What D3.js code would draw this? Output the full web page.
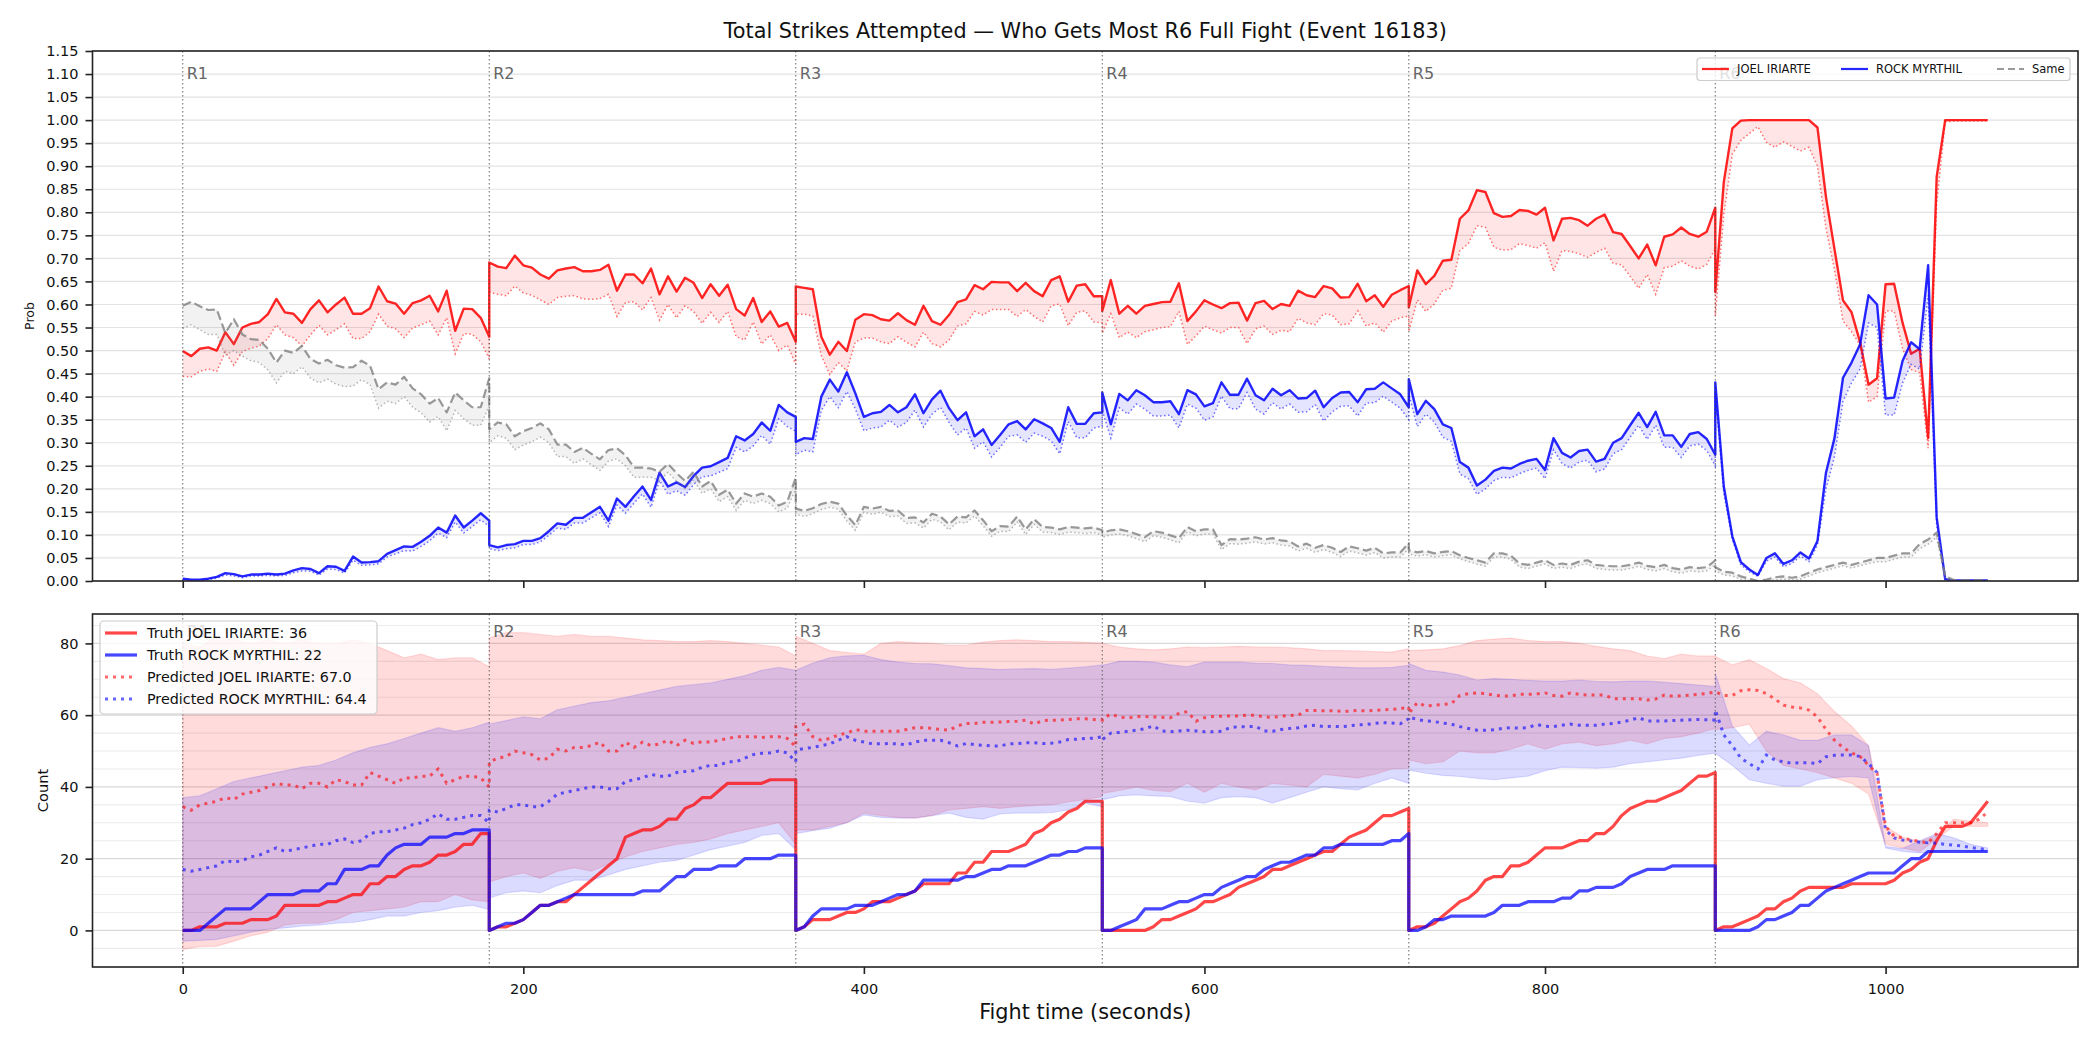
<!DOCTYPE html>
<html>
<head>
<meta charset="utf-8">
<script src="https://cdn.jsdelivr.net/npm/d3@7/dist/d3.min.js"></script>
<style>
body { margin: 0; background: #fff; }
text { font-family: "DejaVu Sans", sans-serif; }
</style>
</head>
<body>
<svg id="chart" width="2100" height="1050"></svg>
<script>
// rounds start every 180 s, samples every 5 s (bands every 10 s)
var roundStarts = [0, 180, 360, 540, 720, 900]
var roundNames = ['R1', 'R2', 'R3', 'R4', 'R5', 'R6']
var probTicks = [0, 0.05, 0.1, 0.15, 0.2, 0.25, 0.3, 0.35, 0.4, 0.45, 0.5, 0.55, 0.6, 0.65, 0.7, 0.75, 0.8, 0.85, 0.9, 0.95, 1.0, 1.05, 1.1, 1.15]
var countTicks = [0, 20, 40, 60, 80]
var countGrid = [-5, 0, 5, 10, 15, 20, 25, 30, 35, 40, 45, 50, 55, 60, 65, 70, 75, 80, 85]
var timeTicks = [0, 200, 400, 600, 800, 1000]

// top panel: probability of who lands most in R6
var probJoel = [
  [0.499,0.488,0.504,0.507,0.50,0.54,0.514,0.55,0.558,0.562,0.579,0.612,0.583,0.58,0.56,0.59,0.609,0.583,0.60,0.615,0.58,0.58,0.592,0.639,0.607,0.602,0.58,0.603,0.609,0.619,0.585,0.63,0.543,0.591,0.59,0.571,0.53],
  [0.691,0.682,0.679,0.706,0.685,0.68,0.665,0.656,0.674,0.678,0.681,0.672,0.672,0.675,0.686,0.63,0.665,0.665,0.646,0.678,0.622,0.661,0.628,0.658,0.647,0.614,0.644,0.619,0.643,0.59,0.576,0.614,0.562,0.585,0.552,0.56,0.519],
  [0.639,0.636,0.633,0.53,0.491,0.519,0.499,0.567,0.579,0.577,0.568,0.565,0.581,0.566,0.556,0.597,0.564,0.556,0.577,0.605,0.611,0.642,0.633,0.649,0.648,0.648,0.629,0.647,0.629,0.618,0.653,0.661,0.606,0.641,0.644,0.618,0.618],
  [0.586,0.653,0.58,0.597,0.58,0.597,0.601,0.605,0.606,0.646,0.564,0.585,0.609,0.60,0.592,0.603,0.604,0.565,0.603,0.608,0.59,0.601,0.597,0.63,0.62,0.616,0.64,0.635,0.615,0.616,0.645,0.607,0.62,0.595,0.621,0.631,0.64],
  [0.594,0.674,0.644,0.662,0.695,0.697,0.786,0.804,0.848,0.844,0.798,0.79,0.792,0.805,0.803,0.795,0.81,0.739,0.786,0.788,0.783,0.771,0.786,0.795,0.757,0.753,0.727,0.70,0.73,0.685,0.747,0.752,0.767,0.753,0.747,0.758,0.81],
  [0.627,0.866,0.982,0.999,1,1,1,1,1,1,1,1,0.984,0.833,0.72,0.609,0.583,0.519,0.426,0.44,0.644,0.645,0.56,0.493,0.504,0.31,0.877,1,1,1,1,1,1]
]
var probJoelLow = [
  [0.444,0.443,0.455,0.46,0.455,0.497,0.468,0.498,0.505,0.51,0.526,0.556,0.534,0.528,0.51,0.534,0.555,0.534,0.545,0.558,0.526,0.526,0.541,0.579,0.553,0.547,0.528,0.549,0.556,0.564,0.534,0.571,0.493,0.537,0.535,0.519,0.482],
  [0.627,0.622,0.619,0.64,0.625,0.62,0.61,0.60,0.615,0.618,0.619,0.612,0.611,0.613,0.622,0.574,0.604,0.606,0.588,0.615,0.566,0.60,0.571,0.597,0.585,0.559,0.583,0.561,0.585,0.53,0.523,0.562,0.514,0.534,0.50,0.512,0.47],
  [0.579,0.579,0.575,0.489,0.448,0.474,0.456,0.519,0.527,0.527,0.519,0.515,0.53,0.518,0.508,0.54,0.515,0.508,0.523,0.553,0.558,0.585,0.577,0.589,0.589,0.589,0.574,0.589,0.574,0.562,0.597,0.601,0.554,0.583,0.586,0.562,0.56],
  [0.538,0.58,0.528,0.54,0.528,0.541,0.545,0.55,0.552,0.585,0.513,0.532,0.553,0.545,0.538,0.55,0.55,0.515,0.547,0.553,0.535,0.544,0.541,0.57,0.56,0.556,0.58,0.577,0.556,0.558,0.586,0.553,0.56,0.54,0.564,0.571,0.575],
  [0.541,0.61,0.585,0.601,0.631,0.635,0.717,0.732,0.771,0.767,0.724,0.718,0.719,0.732,0.728,0.722,0.734,0.672,0.717,0.715,0.71,0.702,0.713,0.722,0.689,0.686,0.661,0.635,0.665,0.622,0.68,0.683,0.695,0.683,0.677,0.687,0.721],
  [0.575,0.795,0.926,0.956,0.971,0.986,0.952,0.941,0.953,0.943,0.933,0.941,0.90,0.765,0.676,0.564,0.541,0.512,0.388,0.40,0.586,0.586,0.504,0.459,0.452,0.288,0.818,0.996,0.998,0.998,0.998,0.998,0.998]
]
var probRock = [
  [0.005,0.003,0.003,0.005,0.009,0.017,0.015,0.010,0.014,0.014,0.016,0.014,0.016,0.023,0.028,0.026,0.017,0.032,0.031,0.022,0.053,0.040,0.041,0.043,0.059,0.067,0.075,0.074,0.085,0.098,0.116,0.105,0.142,0.116,0.131,0.147,0.131],
  [0.078,0.073,0.078,0.08,0.087,0.087,0.093,0.108,0.125,0.122,0.137,0.137,0.149,0.161,0.131,0.179,0.161,0.184,0.205,0.176,0.235,0.205,0.214,0.204,0.228,0.246,0.249,0.258,0.267,0.314,0.305,0.319,0.344,0.326,0.382,0.366,0.356],
  [0.302,0.31,0.308,0.40,0.437,0.411,0.453,0.407,0.356,0.364,0.367,0.382,0.366,0.377,0.405,0.364,0.394,0.413,0.375,0.349,0.366,0.314,0.329,0.295,0.317,0.34,0.347,0.329,0.351,0.342,0.332,0.302,0.377,0.341,0.341,0.364,0.366],
  [0.409,0.34,0.406,0.392,0.414,0.403,0.388,0.388,0.39,0.362,0.414,0.405,0.379,0.386,0.431,0.404,0.404,0.439,0.403,0.392,0.417,0.403,0.414,0.396,0.397,0.413,0.377,0.397,0.409,0.41,0.388,0.416,0.417,0.431,0.418,0.405,0.377],
  [0.438,0.362,0.391,0.373,0.34,0.332,0.258,0.246,0.207,0.22,0.239,0.246,0.244,0.254,0.261,0.265,0.241,0.31,0.278,0.268,0.282,0.285,0.259,0.265,0.30,0.31,0.338,0.365,0.334,0.367,0.316,0.316,0.291,0.319,0.323,0.308,0.274],
  [0.431,0.205,0.097,0.041,0.025,0.013,0.05,0.06,0.037,0.045,0.062,0.049,0.087,0.235,0.31,0.441,0.474,0.513,0.62,0.60,0.396,0.398,0.478,0.518,0.503,0.685,0.138,0.004,0.001,0.001,0.001,0.001,0.001]
]
var probRockLow = [
  [0.003,0.001,0.001,0.003,0.006,0.013,0.011,0.007,0.011,0.011,0.012,0.011,0.012,0.018,0.022,0.021,0.013,0.026,0.025,0.017,0.045,0.034,0.035,0.037,0.052,0.059,0.066,0.065,0.075,0.087,0.104,0.094,0.128,0.104,0.118,0.133,0.118],
  [0.07,0.066,0.07,0.072,0.079,0.079,0.085,0.099,0.115,0.112,0.126,0.126,0.137,0.148,0.118,0.165,0.147,0.169,0.189,0.16,0.218,0.188,0.196,0.186,0.209,0.226,0.228,0.236,0.244,0.29,0.28,0.293,0.316,0.297,0.352,0.335,0.325],
  [0.274,0.284,0.28,0.37,0.40,0.376,0.411,0.373,0.326,0.332,0.334,0.349,0.334,0.344,0.371,0.334,0.362,0.377,0.344,0.317,0.332,0.288,0.302,0.269,0.29,0.314,0.317,0.301,0.321,0.314,0.304,0.276,0.346,0.311,0.311,0.332,0.336],
  [0.37,0.31,0.376,0.362,0.384,0.373,0.358,0.358,0.36,0.332,0.384,0.375,0.349,0.356,0.401,0.374,0.374,0.409,0.373,0.362,0.387,0.373,0.384,0.366,0.367,0.383,0.347,0.367,0.379,0.38,0.358,0.386,0.387,0.401,0.388,0.375,0.35],
  [0.405,0.335,0.362,0.345,0.312,0.303,0.232,0.222,0.188,0.2,0.218,0.225,0.224,0.233,0.24,0.245,0.222,0.285,0.255,0.245,0.258,0.262,0.237,0.243,0.276,0.285,0.312,0.338,0.307,0.338,0.29,0.29,0.268,0.293,0.297,0.283,0.25],
  [0.41,0.19,0.09,0.035,0.02,0.01,0.043,0.052,0.031,0.038,0.054,0.042,0.078,0.2,0.27,0.39,0.43,0.46,0.56,0.55,0.36,0.36,0.43,0.47,0.46,0.62,0.12,0.003,0,0,0,0,0]
]
var probSame = [
  [0.597,0.606,0.596,0.588,0.589,0.538,0.568,0.535,0.525,0.523,0.504,0.474,0.50,0.495,0.51,0.482,0.472,0.48,0.468,0.463,0.464,0.478,0.467,0.416,0.431,0.426,0.443,0.418,0.405,0.385,0.397,0.366,0.409,0.392,0.377,0.377,0.44],
  [0.329,0.344,0.34,0.314,0.325,0.332,0.342,0.329,0.296,0.296,0.28,0.289,0.276,0.264,0.284,0.288,0.273,0.246,0.246,0.244,0.237,0.254,0.234,0.217,0.237,0.205,0.217,0.187,0.198,0.168,0.19,0.183,0.19,0.183,0.164,0.172,0.224],
  [0.157,0.152,0.158,0.167,0.172,0.168,0.142,0.121,0.161,0.157,0.161,0.152,0.153,0.137,0.138,0.127,0.146,0.14,0.123,0.14,0.138,0.153,0.132,0.108,0.119,0.118,0.14,0.112,0.134,0.117,0.116,0.112,0.117,0.116,0.114,0.116,0.11],
  [0.105,0.11,0.112,0.108,0.102,0.095,0.108,0.105,0.099,0.093,0.117,0.108,0.112,0.112,0.078,0.091,0.09,0.092,0.095,0.09,0.093,0.088,0.086,0.075,0.081,0.072,0.078,0.072,0.063,0.075,0.071,0.066,0.072,0.06,0.062,0.062,0.082],
  [0.067,0.062,0.065,0.06,0.063,0.065,0.056,0.05,0.045,0.04,0.06,0.06,0.055,0.038,0.035,0.04,0.045,0.035,0.038,0.035,0.042,0.045,0.035,0.033,0.032,0.032,0.035,0.04,0.033,0.03,0.035,0.028,0.025,0.03,0.028,0.03,0.045],
  [0.03,0.02,0.018,0.01,0.005,0.0,0.003,0.008,0.01,0.007,0.01,0.018,0.025,0.03,0.035,0.04,0.035,0.04,0.045,0.05,0.05,0.055,0.06,0.06,0.08,0.09,0.105,0.01,0.002,0.002,0.002,0.002,0.002]
]
var probSameLow = [
  [0.548,0.556,0.545,0.535,0.535,0.49,0.50,0.488,0.478,0.474,0.458,0.43,0.455,0.45,0.465,0.44,0.43,0.438,0.427,0.422,0.423,0.437,0.426,0.375,0.39,0.385,0.40,0.377,0.365,0.345,0.357,0.326,0.37,0.352,0.338,0.338,0.38],
  [0.30,0.315,0.31,0.285,0.295,0.302,0.312,0.30,0.27,0.27,0.255,0.265,0.252,0.24,0.26,0.265,0.25,0.225,0.225,0.225,0.218,0.236,0.216,0.2,0.22,0.19,0.2,0.172,0.183,0.153,0.175,0.168,0.175,0.168,0.15,0.158,0.2],
  [0.145,0.14,0.146,0.155,0.16,0.156,0.13,0.11,0.149,0.145,0.149,0.14,0.141,0.125,0.126,0.115,0.134,0.128,0.111,0.128,0.126,0.141,0.12,0.097,0.108,0.107,0.128,0.101,0.123,0.106,0.105,0.101,0.106,0.105,0.103,0.105,0.1],
  [0.095,0.1,0.102,0.098,0.092,0.085,0.098,0.095,0.089,0.083,0.107,0.098,0.102,0.102,0.068,0.081,0.08,0.082,0.085,0.08,0.083,0.078,0.076,0.065,0.071,0.062,0.068,0.062,0.053,0.065,0.061,0.056,0.062,0.05,0.052,0.052,0.07],
  [0.059,0.054,0.057,0.052,0.055,0.057,0.048,0.042,0.037,0.032,0.052,0.052,0.047,0.03,0.027,0.032,0.037,0.027,0.03,0.027,0.034,0.037,0.027,0.025,0.024,0.024,0.027,0.032,0.025,0.022,0.027,0.02,0.017,0.022,0.02,0.022,0.035],
  [0.022,0.013,0.011,0.004,0,0,0,0.002,0.004,0.002,0.004,0.011,0.018,0.023,0.028,0.033,0.028,0.033,0.038,0.042,0.042,0.047,0.052,0.052,0.07,0.08,0.095,0.005,0,0,0,0,0]
]

// bottom panel: cumulative strikes per round, truth and predicted
var truthJoel = [
  [0,0,1,1,1,2,2,2,3,3,3,4,7,7,7,7,7,8,8,9,10,10,13,13,15,15,17,18,18,19,21,21,22,24,24,27,27],
  [0,1,1,2,3,5,7,7,8,8,10,12,14,16,18,20,26,27,28,28,29,31,31,34,35,37,37,39,41,41,41,41,41,42,42,42,42],
  [0,1,3,3,3,4,5,5,6,8,8,8,9,10,11,13,13,13,13,16,16,19,19,22,22,22,23,24,27,28,30,31,33,34,36,36,36],
  [0,0,0,0,0,0,1,3,3,4,5,6,8,8,9,10,12,13,14,15,17,17,18,19,20,21,22,22,24,26,27,28,30,32,32,33,34],
  [0,1,1,2,4,6,8,9,11,14,15,15,18,18,19,21,23,23,23,24,25,25,27,27,29,32,34,35,36,36,37,38,39,41,43,43,44],
  [0,1,1,2,3,4,6,6,8,9,11,12,12,12,12,12,13,13,13,13,13,14,16,17,19,20,25,29,29,29,30,33,36]
]
var truthRock = [
  [0,0,0,2,4,6,6,6,6,8,10,10,10,10,11,11,11,13,13,17,17,17,18,18,21,23,24,24,24,26,26,26,27,27,28,28,28],
  [0,1,2,2,3,5,7,7,8,9,10,10,10,10,10,10,10,10,11,11,11,13,15,15,17,17,17,18,18,18,20,20,20,20,21,21,21],
  [0,1,4,6,6,6,6,7,7,7,8,9,10,10,11,14,14,14,14,14,15,15,16,17,17,18,18,18,19,20,21,21,22,22,23,23,23],
  [0,0,1,2,3,6,6,6,7,8,8,9,10,10,12,13,14,15,15,17,18,19,19,20,21,21,23,23,24,24,24,24,24,24,25,25,27],
  [0,0,1,3,3,4,4,4,4,4,5,7,7,7,8,8,8,8,9,9,11,11,12,12,12,13,15,16,17,17,17,18,18,18,18,18,18],
  [0,0,0,0,0,1,3,3,4,5,7,7,9,11,12,13,14,15,16,16,16,16,18,20,20,22,22,22,22,22,22,22,22]
]
var predJoel = [
  [34.5,33.5,35,35.5,36,37,36.5,38,38.5,39,40,41,40.5,40.5,39.5,41,41,40,42,41.5,40.5,40.5,44,43,42,41,42.5,42.5,43,43,45,41,42,43,43,42.5,40],
  [47,48,48.5,50,49.5,49,47.5,48,50.5,50,51,51,51.5,52.5,50,50,52.5,51,52.5,51.5,52,53,51.5,53,52.1,52.6,52.5,53,53.5,54,54,54,53.8,54,54,53.5,51.2],
  [56.8,57.5,54,53,53.5,54.5,55,56,55.5,55.5,55.5,55.5,55.5,56,56.5,56.5,56.3,56,55.8,57,57.7,57.7,58,58,58.1,58.2,58.3,58.6,57.5,58.5,58.6,58.6,58.8,59,59,58.8,58.6],
  [59,60.3,59.5,59.2,59.6,59.6,59.5,59.4,59.3,60.5,61,58.3,59.3,59.6,59.7,59.8,59.8,60,60,59.5,59.4,59.7,59.9,60,61.3,61.3,61.2,61.2,61.1,61.1,61.3,61.2,61.3,61.5,61.6,61.8,62.3],
  [60.5,63.5,62.5,62.8,63,63.2,65.5,66,66.2,66,65.6,65.3,65.4,65.8,65.8,65.9,66.2,65.5,65.3,66.2,65.8,65.6,65.6,65.6,64.6,64.6,64.6,64.6,64.2,64.5,65.6,65.3,65.4,65.6,65.8,66,66.5],
  [66.5,65.5,65.5,66.8,67.1,66.9,66,64.5,62.8,62.3,62,61.4,59.5,56,53,51,49.5,48.5,46,43.8,29,26.3,25.8,25.2,24.8,24.4,27,30,30,30,30,31,33]
]
var predRock = [
  [17,16.5,17,17.5,18,19.5,19,19.5,20.5,21,22,23,22,22.5,23,23.5,24,24,25,25.5,24.5,25,27,27.5,27.5,28,28.5,29.5,30,31,32.5,31,31,31.5,32,32,30],
  [33.5,33,34,35,35,34.5,34.5,36,38,38.5,39,39.5,40,40,39.5,39.5,41.5,42,42.5,43.5,43,43,44,44.3,44.5,45.5,46,46,47,47,48,49,49.4,49.5,50,49.5,47],
  [50.3,50.7,51,51.5,52,53,54,53,52.5,52,52,52.1,52,51.7,52.5,53,53,53,52.3,51.4,52.1,51.8,51.6,51.4,51.4,52,52.1,52.3,52.3,52.1,52.2,52.5,53.2,53.3,53.5,53.6,54],
  [53.2,55,55.2,55.5,55.8,56.2,57,55.6,55.4,55.6,55.8,55.6,55.4,55.4,55.5,56.5,56.8,56.8,56.9,55.6,55.5,56,56.3,56.5,57,57.2,56.8,56.9,56.8,57,57.3,57.4,57.7,57.9,57.8,57.6,59],
  [59.5,58.8,58.4,58.2,57.8,57.5,56.8,56.3,55.8,55.8,55.9,56.3,56.5,56.4,56.5,57.4,56.9,56.8,57.2,57.5,57.2,57.2,57.2,57.5,57.7,58.1,58.6,59.3,58.4,58.4,58.4,58.5,58.6,58.7,58.8,58.7,58.6],
  [61.5,54.5,51.5,48,46.5,45,48.9,47.5,47,46.6,46.8,46.7,46.5,48.4,48.8,48.9,48.9,48.5,46.5,44,28,25.8,25.2,24.9,24.6,24.4,24.3,24,23.8,23.5,23.1,22.8,22.5]
]
// prediction bands, every 10 s
var bandJoelHi = [
  [80,79,82,81,80,81,80,81,80,80,81,80,78,76,77,75.5,76,76,73.5],
  [81.5,83,83,82.5,82,82.5,82,82,81.5,81,80.8,80.5,80.5,80.8,80.5,80,79.5,79,76.5],
  [82,80,78,77.5,77,80,80.5,80.2,80,79.5,79.5,80.4,80.8,81,80.8,80.5,80.5,80.3,80.1],
  [80,79,78.5,78.2,78.5,79,78.8,79,79.2,79,79,78.8,78.5,78,78,77.9,77.7,77.6,78.5],
  [78,78.2,78.5,79.4,80.8,81.2,81.5,80.8,80.5,80.5,80,79.2,78.5,78,76.5,75.8,77,76.5,76.5],
  [76.4,74,75.5,73,70.2,69,66,61,57,51.5,29,26,24.8,26.5,31,30.5,30]
]
var bandJoelLo = [
  [-5.3,-4.5,-4.4,-3,-1.5,-0.5,1.5,2,2,3,5,5.5,6,6.5,8,8,10,8.5,8],
  [13.5,15,16,14.5,16.5,17.5,16.5,18.5,20.5,22,23,24,24.5,25.5,27,28,29,30,24],
  [28,28,29,30,32.7,32,31.5,31.3,32,33.6,34,34.5,34,34.5,34.8,35,35.8,36.5,37.3],
  [38.2,39,40,39,38.7,41,38.5,41,40,39.2,41,40.5,40,43.5,43,42.5,43.5,45,45.2],
  [47.5,46.5,47,50,49.5,49.5,50.5,52,50.5,52,52.5,51.5,52,53,52,53.5,54,55,56.3],
  [56,56.5,57.5,50,46,45,44,42.5,41,38,24,23,22,25.5,29,29,29]
]
var bandRockHi = [
  [37,37.5,39.5,41.5,42.5,43.5,44.5,45.5,46,47.5,49.5,51,52,53.5,55,56.5,55.5,56.5,58],
  [57.5,58.5,59.5,59,61.5,62.5,63.5,64,65,66,67,68,68.5,69,70,71,72.5,73.3,72.5],
  [72.5,74.5,76,76.5,76.7,75.5,74.8,74.4,74.3,73.8,73.2,73,72.7,72.9,73,72.8,73.1,73.5,74],
  [73.9,75,75,74.8,74,73.5,74.8,74.8,74.8,74.5,74.4,74,73.9,73.6,73.4,73.2,73.2,73.3,73.9],
  [74.4,72.5,72,71.2,69.8,70.2,70,69.7,69.5,69.5,69.8,69.4,69.3,69.5,69.5,69.2,68.8,68.4,68],
  [71.6,57,51.7,55.5,54.5,53,53,54.5,54.5,51.5,23.4,22.8,25,27,25.8,24,23]
]
var bandRockLo = [
  [-3,-2.8,-2.5,-1.5,-0.5,0.3,0.7,1.2,1.5,2,2.2,3,4,4,5,5.5,6.5,7,5.8],
  [9,10.5,11,10.5,12.5,14,14,15.5,17,18,19,19.5,21,22.5,23.5,24.5,26.5,27,22.5],
  [27,27.8,28.5,30,32.2,31.5,31.3,31.3,32,32.7,31.5,31,32.5,32.7,32.7,32.8,33.6,35.5,34.5],
  [36.4,37.5,37.8,37.5,37.3,36,35.5,37,37.3,37,35.5,37,38.5,40,39.5,39.2,41,42.5,41],
  [44.7,43.8,43.2,42.9,42.4,42,42.5,43,44.5,45.5,45.4,45.2,45.5,46.5,47,47.5,48,48.8,49.4],
  [49.4,46,42,41,40.2,40.2,42,42.6,42.9,42.5,23,22,21.6,22,22.4,22,22]
]

// flatten per-round lists into {t, v, lo}
var toPoints = (rounds, step, lows) => {
    let pts = []
    rounds.forEach((vals, r) => {
        vals.forEach((v, i) => {
            pts.push({t: roundStarts[r] + i*step, v: v, lo: lows ? lows[r][i] : null})
        })
    })
    return pts
}

var L = 92.5, R = 2078
var top1 = 51, bot1 = 581, top2 = 614, bot2 = 967

var svg = d3.select('#chart')
var x = d3.scaleLinear().domain([-53, 1113]).range([L, R])
var yP = d3.scaleLinear().domain([0, 1.15]).range([bot1, top1])
var yC = d3.scaleLinear().domain([-10.2, 88.2]).range([bot2, top2])

var defs = svg.append('defs')
defs.append('clipPath').attr('id', 'clip1').append('rect')
    .attr('x', L).attr('y', top1).attr('width', R-L).attr('height', bot1-top1)
defs.append('clipPath').attr('id', 'clip2').append('rect')
    .attr('x', L).attr('y', top2).attr('width', R-L).attr('height', bot2-top2)

// ---------- top panel ----------
var g1 = svg.append('g')
g1.selectAll('line.grid').data(probTicks).enter().append('line')
    .attr('x1', L).attr('x2', R)
    .attr('y1', d => yP(d)).attr('y2', d => yP(d))
    .attr('stroke', '#e3e3e3').attr('stroke-width', 1.2)

var p1 = g1.append('g').attr('clip-path', 'url(#clip1)')
var areaP = d3.area().x(d => x(d.t)).y0(d => yP(d.lo)).y1(d => yP(d.v))
var lineP = d3.line().x(d => x(d.t)).y(d => yP(d.v))
var lineLo = d3.line().x(d => x(d.t)).y(d => yP(d.lo))

var topSeries = [
    {vals: probJoel, lows: probJoelLow, color: '#ff0000', dash: null},
    {vals: probRock, lows: probRockLow, color: '#0000ff', dash: null},
    {vals: probSame, lows: probSameLow, color: '#7f7f7f', dash: '9,4'}
]
topSeries.forEach(s => {
    let pts = toPoints(s.vals, 5, s.lows)
    p1.append('path').datum(pts).attr('d', areaP)
        .attr('fill', s.color).attr('fill-opacity', 0.1)
    p1.append('path').datum(pts).attr('d', lineLo)
        .attr('fill', 'none').attr('stroke', s.color).attr('stroke-opacity', 0.55)
        .attr('stroke-width', 1.5).attr('stroke-dasharray', '1.5,2.5')
    p1.append('path').datum(pts).attr('d', lineP)
        .attr('fill', 'none').attr('stroke', s.color).attr('stroke-opacity', s.dash ? 0.8 : 0.85)
        .attr('stroke-width', s.dash ? 2.2 : 2.4)
        .attr('stroke-dasharray', s.dash)
        .attr('stroke-linejoin', 'round')
})

// ---------- bottom panel ----------
var g2 = svg.append('g')
g2.selectAll('line.grid').data(countGrid).enter().append('line')
    .attr('x1', L).attr('x2', R)
    .attr('y1', d => yC(d)).attr('y2', d => yC(d))
    .attr('stroke', d => countTicks.includes(d) ? '#d9d9d9' : '#ececec')
    .attr('stroke-width', 1.1)

var p2 = g2.append('g').attr('clip-path', 'url(#clip2)')
var areaC = d3.area().x(d => x(d.t)).y0(d => yC(d.lo)).y1(d => yC(d.v))
var lineC = d3.line().x(d => x(d.t)).y(d => yC(d.v))

;[[bandJoelHi, bandJoelLo, '#ff0000'], [bandRockHi, bandRockLo, '#0000ff']].forEach(b => {
    p2.append('path').datum(toPoints(b[0], 10, b[1])).attr('d', areaC)
        .attr('fill', b[2]).attr('fill-opacity', 0.14)
        .attr('stroke', b[2]).attr('stroke-opacity', 0.12).attr('stroke-width', 1.2)
})
;[[truthJoel, '#ff0000'], [truthRock, '#0000ff']].forEach(s => {
    p2.append('path').datum(toPoints(s[0], 5)).attr('d', lineC)
        .attr('fill', 'none').attr('stroke', s[1]).attr('stroke-opacity', 0.72)
        .attr('stroke-width', 3.2).attr('stroke-linejoin', 'round')
})
;[[predJoel, '#ff0000'], [predRock, '#0000ff']].forEach(s => {
    p2.append('path').datum(toPoints(s[0], 5)).attr('d', lineC)
        .attr('fill', 'none').attr('stroke', s[1]).attr('stroke-opacity', 0.6)
        .attr('stroke-width', 3).attr('stroke-dasharray', '3,5')
})

// ---------- round markers ----------
;[[top1, bot1], [top2, bot2]].forEach((ext, k) => {
    svg.append('g').selectAll('line').data(roundStarts).enter().append('line')
        .attr('x1', d => x(d)).attr('x2', d => x(d))
        .attr('y1', ext[0]).attr('y2', ext[1])
        .attr('stroke', '#444').attr('stroke-opacity', 0.75)
        .attr('stroke-width', 1.1).attr('stroke-dasharray', '1.5,2.5')
    svg.append('g').selectAll('text').data(roundStarts).enter().append('text')
        .attr('x', d => x(d) + 4)
        .attr('y', ext[0] + 0.03*(ext[1]-ext[0]) + 12)
        .attr('font-size', 16).attr('fill', '#666')
        .text((d, i) => roundNames[i])
})

// ---------- axes ----------
var styleAxis = sel => {
    sel.select('.domain').remove()
    sel.selectAll('.tick line').attr('stroke', '#222').attr('stroke-width', 1.6)
    sel.selectAll('.tick text').attr('font-size', 14.5).attr('fill', '#111')
        .attr('font-family', '"DejaVu Sans", sans-serif')
}
svg.append('g').attr('transform', `translate(${L},0)`)
    .call(d3.axisLeft(yP).tickValues(probTicks).tickFormat(d3.format('.2f')).tickSize(7).tickPadding(7))
    .call(styleAxis)
svg.append('g').attr('transform', `translate(${L},0)`)
    .call(d3.axisLeft(yC).tickValues(countTicks).tickSize(7).tickPadding(7))
    .call(styleAxis)
svg.append('g').attr('transform', `translate(0,${bot1})`)
    .call(d3.axisBottom(x).tickValues(timeTicks).tickFormat('').tickSize(7))
    .call(styleAxis)
svg.append('g').attr('transform', `translate(0,${bot2})`)
    .call(d3.axisBottom(x).tickValues(timeTicks).tickFormat(d3.format('d')).tickSize(7).tickPadding(10))
    .call(styleAxis)

;[[top1, bot1], [top2, bot2]].forEach(ext => {
    svg.append('rect').attr('x', L).attr('y', ext[0])
        .attr('width', R-L).attr('height', ext[1]-ext[0])
        .attr('fill', 'none').attr('stroke', '#222').attr('stroke-width', 1.6)
})

// ---------- labels ----------
svg.append('text').attr('x', (L+R)/2).attr('y', 38).attr('text-anchor', 'middle')
    .attr('font-size', 20.8).attr('fill', '#111')
    .text('Total Strikes Attempted \u2014 Who Gets Most R6 Full Fight (Event 16183)')
svg.append('text').attr('x', (L+R)/2).attr('y', 1019).attr('text-anchor', 'middle')
    .attr('font-size', 20.8).attr('fill', '#111')
    .text('Fight time (seconds)')
svg.append('text').attr('transform', `translate(34,${(top1+bot1)/2}) rotate(-90)`)
    .attr('text-anchor', 'middle').attr('font-size', 12.5).attr('fill', '#111').text('Prob')
svg.append('text').attr('transform', `translate(48,${(top2+bot2)/2}) rotate(-90)`)
    .attr('text-anchor', 'middle').attr('font-size', 14.6).attr('fill', '#111').text('Count')

// ---------- legends ----------
var leg1 = svg.append('g')
leg1.append('rect').attr('x', 1697).attr('y', 58).attr('width', 373).attr('height', 22.5)
    .attr('rx', 3).attr('fill', '#fff').attr('fill-opacity', 0.8)
    .attr('stroke', '#cccccc').attr('stroke-width', 1.2)
var topLegend = [
    {label: 'JOEL IRIARTE', color: '#ff0000', dash: null, x: 1702},
    {label: 'ROCK MYRTHIL', color: '#0000ff', dash: null, x: 1841},
    {label: 'Same', color: '#7f7f7f', dash: '7,4', x: 1997}
]
topLegend.forEach(d => {
    leg1.append('line').attr('x1', d.x).attr('x2', d.x + 27).attr('y1', 69).attr('y2', 69)
        .attr('stroke', d.color).attr('stroke-opacity', d.dash ? 0.8 : 0.85)
        .attr('stroke-width', 2.2).attr('stroke-dasharray', d.dash)
    leg1.append('text').attr('x', d.x + 35).attr('y', 73).attr('font-size', 11.5)
        .attr('fill', '#111').text(d.label)
})

var leg2 = svg.append('g')
leg2.append('rect').attr('x', 100).attr('y', 621).attr('width', 277).attr('height', 93)
    .attr('rx', 4).attr('fill', '#fff').attr('fill-opacity', 0.8)
    .attr('stroke', '#cccccc').attr('stroke-width', 1.2)
var bottomLegend = [
    {label: 'Truth JOEL IRIARTE: 36', color: '#ff0000', dotted: false},
    {label: 'Truth ROCK MYRTHIL: 22', color: '#0000ff', dotted: false},
    {label: 'Predicted JOEL IRIARTE: 67.0', color: '#ff0000', dotted: true},
    {label: 'Predicted ROCK MYRTHIL: 64.4', color: '#0000ff', dotted: true}
]
bottomLegend.forEach((d, i) => {
    let cy = 633 + i*22
    leg2.append('line').attr('x1', 105).attr('x2', 137).attr('y1', cy).attr('y2', cy)
        .attr('stroke', d.color).attr('stroke-opacity', d.dotted ? 0.6 : 0.72)
        .attr('stroke-width', d.dotted ? 3 : 3.2)
        .attr('stroke-dasharray', d.dotted ? '3,5' : null)
    leg2.append('text').attr('x', 147).attr('y', cy + 5).attr('font-size', 14.3)
        .attr('fill', '#111').text(d.label)
})
</script>
</body>
</html>
